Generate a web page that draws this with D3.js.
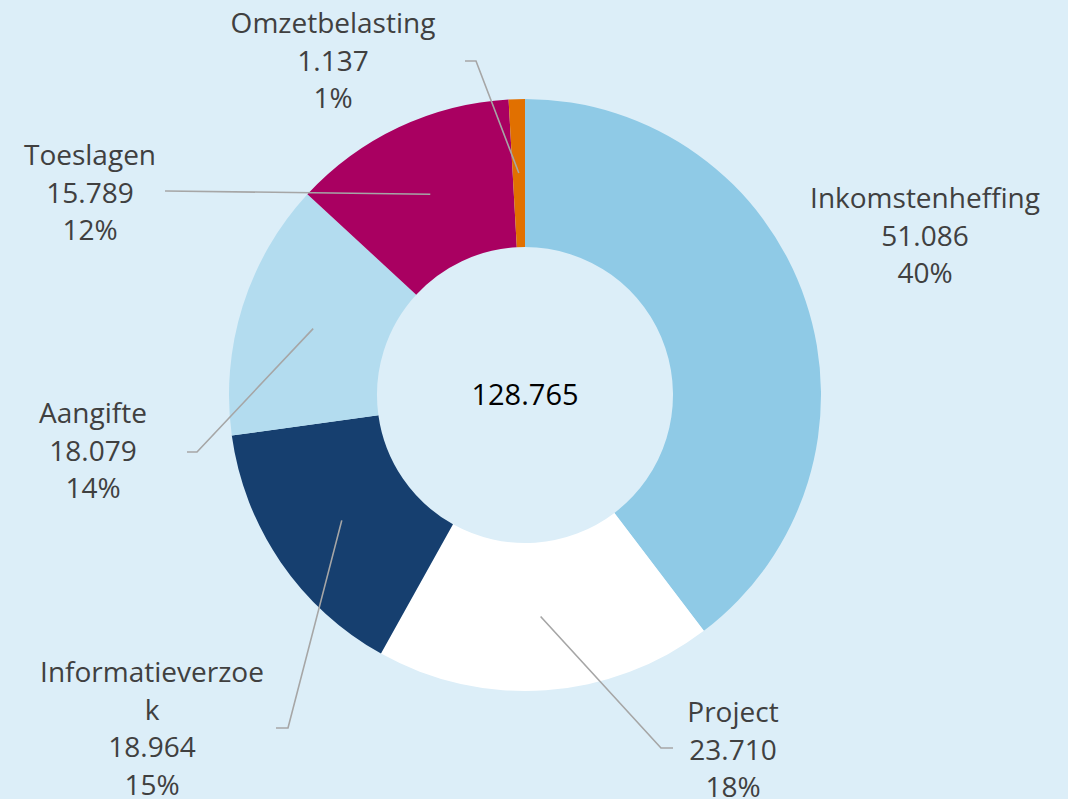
<!DOCTYPE html>
<html><head><meta charset="utf-8">
<script src="https://cdn.jsdelivr.net/npm/d3@7"></script>
<style>
html,body{margin:0;padding:0;background:#dceef8;}
svg{display:block;}
text{font-family:"Open Sans",sans-serif;}
</style></head>
<body>
<svg id="c" width="1068" height="799"></svg>
<script>
const categories = ["Inkomstenheffing","Project","Informatieverzoek","Aangifte","Toeslagen","Omzetbelasting"];
const labelLines = [["Inkomstenheffing"],["Project"],["Informatieverzoe","k"],["Aangifte"],["Toeslagen"],["Omzetbelasting"]];
const values = [51086, 23710, 18964, 18079, 15789, 1137];
const colors = ["#8fcae6","#ffffff","#163f6f","#b3dcef","#a90061","#e17000"];
// label layout: center x, first baseline, leader elbow points (null = no leader)
const labelPos = [
  {x:925, y:208, leader:null},
  {x:733, y:722, leader:[[673,748],[661,748]]},
  {x:152, y:682, leader:[[276,728],[288,728]]},
  {x:93,  y:423, leader:[[187,452],[197,452]]},
  {x:90,  y:165, leader:[[165,191],[166,191]]},
  {x:333, y:33,  leader:[[465,61],[476,61]]}
];

const fmt = v => d3.format(",")(v).replace(/,/g,".");
const total = d3.sum(values);

const svg = d3.select("#c");
const cx = 525, cy = 395, rOuter = 296, rInner = 148;
const g = svg.append("g").attr("transform",`translate(${cx},${cy})`);

const pie = d3.pie().sort(null).value(d=>d)(values);
const arc = d3.arc().innerRadius(rInner).outerRadius(rOuter);

g.selectAll("path.slice").data(pie).join("path")
  .attr("class","slice")
  .attr("d",arc)
  .attr("fill",(d,i)=>colors[i]);

// leader lines
pie.forEach((d,i)=>{
  const lp = labelPos[i];
  if(!lp.leader) return;
  const c = arc.centroid(d);
  const pts = lp.leader.map(p=>[p[0]-cx,p[1]-cy]).concat([c]);
  g.append("path")
    .attr("d",d3.line()(pts))
    .attr("fill","none")
    .attr("stroke","#a6a6a6")
    .attr("stroke-width",1.6);
});

// labels
const lh = 37.5;
pie.forEach((d,i)=>{
  const lp = labelPos[i];
  const lines = labelLines[i].concat([fmt(values[i]), Math.round(values[i]/total*100)+"%"]);
  const t = svg.append("text")
    .attr("text-anchor","middle")
    .attr("fill","#404040")
    .attr("font-size",28);
  lines.forEach((s,k)=>{
    t.append("tspan").attr("x",lp.x).attr("y",lp.y+k*lh).text(s);
  });
});

svg.append("text")
  .attr("x",cx).attr("y",cy+10)
  .attr("text-anchor","middle")
  .attr("font-size",29)
  .attr("font-weight",500)
  .attr("fill","#000")
  .text(fmt(total));
</script>
</body></html>
